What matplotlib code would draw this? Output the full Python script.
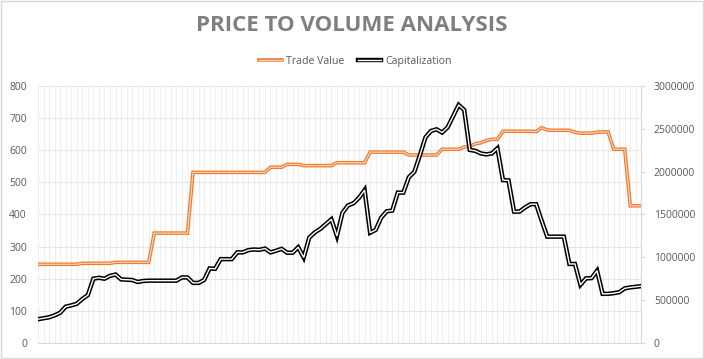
import matplotlib
matplotlib.use('Agg')
import matplotlib.pyplot as plt
from matplotlib.legend_handler import HandlerTuple

plt.rcParams['font.family'] = ['Open Sans', 'DejaVu Sans']

ORANGE = '#ED7D31'
BLACK = '#000000'
TEXT_COLOR = '#595959'
TITLE_COLOR = '#7f7f7f'

# Trade Value (left axis), one value per category
trade_value = (
    [245] * 8 + [248] * 6 + [251] * 7 + [342] * 7 + [531] * 14
    + [547] * 3 + [556] * 3 + [552] * 6 + [561] * 6 + [594] * 7
    + [585] * 6 + [603] * 4
    + [610, 612, 620, 623, 630, 634, 634]
    + [659] * 6 + [658, 670, 663] + [662] * 4
    + [656, 653, 653, 653, 656, 657, 657]
    + [603] * 3 + [427] * 3
)

# Capitalization (right axis)
capitalization = [
    277500, 288750, 300000, 322500, 352500, 423750, 438750, 457500, 513750, 558750,
    750000, 761250, 750000, 783750, 798750, 742500, 738750, 735000, 712500, 723750,
    727500, 727500, 727500, 727500, 727500, 727500, 765000, 765000, 701250, 701250,
    735000, 870000, 866250, 978750, 978750, 978750, 1057500, 1057500, 1083750, 1091250,
    1087500, 1102500, 1057500, 1076250, 1098750, 1053750, 1053750, 1117500, 997500, 1230000,
    1290000, 1331250, 1387500, 1443750, 1248750, 1518750, 1605000, 1631250, 1695000, 1785000,
    1286250, 1320000, 1462500, 1537500, 1545000, 1755000, 1755000, 1935000, 1998750, 2193750,
    2400000, 2475000, 2493750, 2456250, 2516250, 2647500, 2778750, 2718750, 2253750, 2242500,
    2212500, 2201250, 2212500, 2272500, 1901250, 1897500, 1533750, 1533750, 1582500, 1620000,
    1620000, 1425000, 1241250, 1241250, 1241250, 1241250, 922500, 922500, 678750, 753750,
    757500, 843750, 573750, 573750, 581250, 592500, 637500, 648750, 656250, 663750,
]

categories = list(range(len(trade_value)))
left_ticks = [0, 100, 200, 300, 400, 500, 600, 700, 800]
right_ticks = [0, 500000, 1000000, 1500000, 2000000, 2500000, 3000000]

fig = plt.figure(figsize=(7.04, 3.59), dpi=100, facecolor='white')
ax = fig.add_axes([0.054, 0.0446, 0.857, 0.716])
ax2 = ax.twinx()

# grid
ax.set_xlim(categories[0], categories[-1])
ax.set_ylim(0, 800)
ax.set_xticks(categories)
ax.set_yticks(left_ticks)
ax.grid(axis='x', color='#efefef', linewidth=0.75, zorder=0)
ax.grid(axis='y', color='#e6e6e6', linewidth=0.75, zorder=0)
ax.tick_params(axis='x', length=0, labelbottom=False)
ax.tick_params(axis='y', length=0, labelsize=7.5, labelcolor=TEXT_COLOR, pad=8)
for side in ['top', 'right', 'left']:
    ax.spines[side].set_visible(False)
ax.spines['bottom'].set_color('#d9d9d9')

ax2.set_ylim(0, 3000000)
ax2.set_yticks(right_ticks, [str(t) for t in right_ticks])
ax2.tick_params(axis='y', length=3, color='#d9d9d9', labelsize=7.5, labelcolor=TEXT_COLOR, pad=6)
for side in ['top', 'left', 'bottom']:
    ax2.spines[side].set_visible(False)
ax2.spines['right'].set_color('#d9d9d9')

# double lines: thick coloured line with a thin light line on top
o1, = ax.plot(categories, trade_value, color=ORANGE, linewidth=2.6, solid_joinstyle='miter', zorder=3)
o2, = ax.plot(categories, trade_value, color='#fbd9c2', linewidth=0.8, solid_joinstyle='miter', zorder=4)
b1, = ax2.plot(categories, capitalization, color=BLACK, linewidth=3.2, solid_joinstyle='miter', zorder=3)
b2, = ax2.plot(categories, capitalization, color='white', linewidth=1.0, solid_joinstyle='miter', zorder=4)

fig.text(0.5, 0.928, 'PRICE TO VOLUME ANALYSIS', ha='center', va='center',
         fontsize=16, fontweight='bold', color=TITLE_COLOR)

fig.legend([(o1, o2), (b1, b2)], ['Trade Value', 'Capitalization'],
           handler_map={tuple: HandlerTuple(ndivide=1)},
           loc='center', bbox_to_anchor=(0.505, 0.83), ncol=2, frameon=False,
           fontsize=7.6, labelcolor=TEXT_COLOR, handlelength=2.2, handletextpad=0.4,
           columnspacing=1.3)

# thin border around the chart area
fig.patches.append(plt.Rectangle((0.0015, 0.003), 0.997, 0.994, transform=fig.transFigure,
                                 fill=False, edgecolor='#d9d9d9', linewidth=1))

fig.savefig('out.png', dpi=100, facecolor='white')
